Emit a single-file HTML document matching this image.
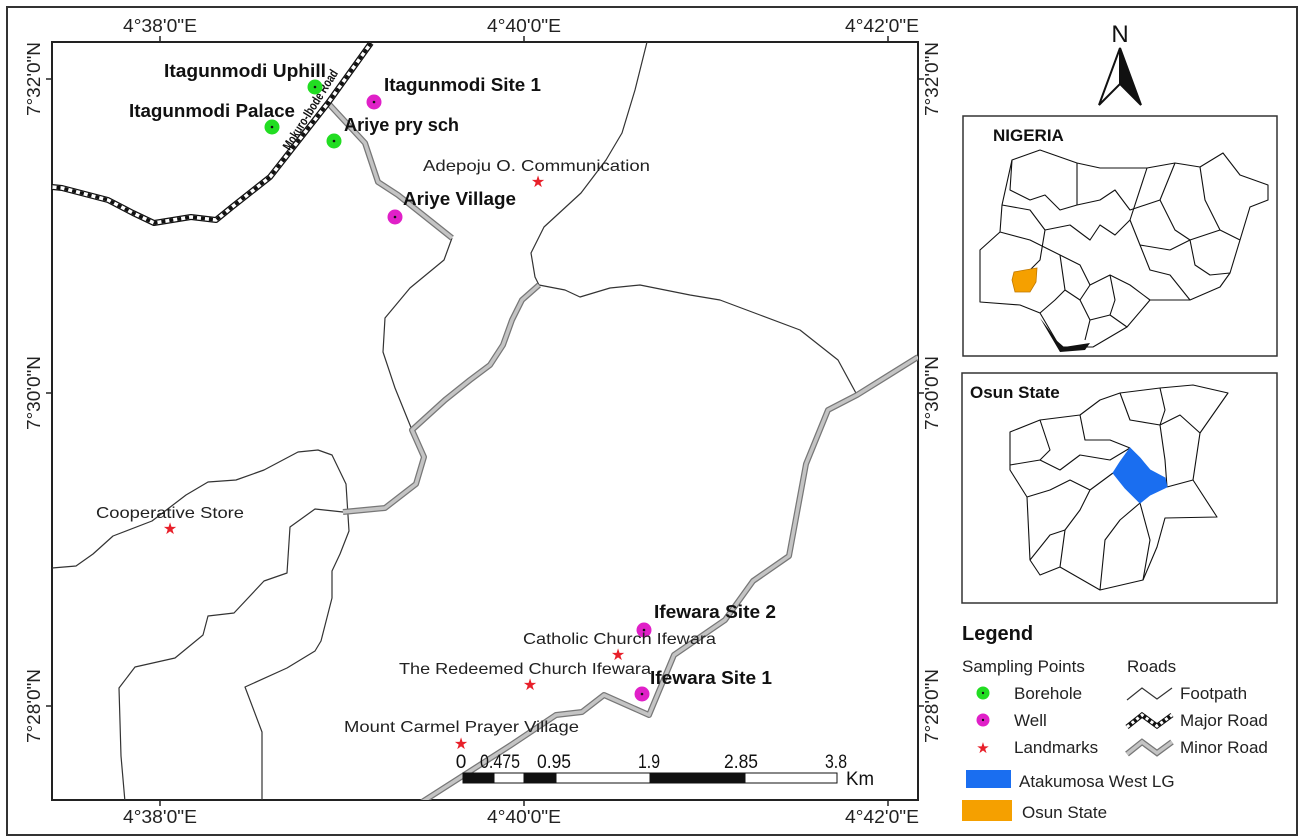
<!DOCTYPE html>
<html><head><meta charset="utf-8"><style>
html,body{margin:0;padding:0;background:#fff;}
svg{display:block;font-family:"Liberation Sans",sans-serif;}
</style></head><body>
<svg width="1304" height="840" viewBox="0 0 1304 840" xmlns="http://www.w3.org/2000/svg">
<rect x="7" y="7" width="1290" height="828" fill="#fff" stroke="#333" stroke-width="2"/>
<rect x="52" y="42" width="866" height="758" fill="#fff" stroke="#222" stroke-width="2"/>
<g stroke="#222" stroke-width="1.5">
<line x1="160" y1="36" x2="160" y2="42"/><line x1="524" y1="36" x2="524" y2="42"/><line x1="888" y1="36" x2="888" y2="42"/>
<line x1="160" y1="800" x2="160" y2="806"/><line x1="524" y1="800" x2="524" y2="806"/><line x1="888" y1="800" x2="888" y2="806"/>
<line x1="46" y1="79" x2="52" y2="79"/><line x1="46" y1="393" x2="52" y2="393"/><line x1="46" y1="706" x2="52" y2="706"/>
<line x1="918" y1="79" x2="924" y2="79"/><line x1="918" y1="393" x2="924" y2="393"/><line x1="918" y1="706" x2="924" y2="706"/>
</g>
<g font-size="18" fill="#222" text-anchor="middle" lengthAdjust="spacingAndGlyphs">
<text x="160" y="32" textLength="74" lengthAdjust="spacingAndGlyphs">4°38'0"E</text>
<text x="524" y="32" textLength="74" lengthAdjust="spacingAndGlyphs">4°40'0"E</text>
<text x="882" y="32" textLength="74" lengthAdjust="spacingAndGlyphs">4°42'0"E</text>
<text x="160" y="823" textLength="74" lengthAdjust="spacingAndGlyphs">4°38'0"E</text>
<text x="524" y="823" textLength="74" lengthAdjust="spacingAndGlyphs">4°40'0"E</text>
<text x="882" y="823" textLength="74" lengthAdjust="spacingAndGlyphs">4°42'0"E</text>
<text transform="translate(40,79) rotate(-90)" textLength="74" lengthAdjust="spacingAndGlyphs">7°32'0"N</text>
<text transform="translate(40,393) rotate(-90)" textLength="74" lengthAdjust="spacingAndGlyphs">7°30'0"N</text>
<text transform="translate(40,706) rotate(-90)" textLength="74" lengthAdjust="spacingAndGlyphs">7°28'0"N</text>
<text transform="translate(938,79) rotate(-90)" textLength="74" lengthAdjust="spacingAndGlyphs">7°32'0"N</text>
<text transform="translate(938,393) rotate(-90)" textLength="74" lengthAdjust="spacingAndGlyphs">7°30'0"N</text>
<text transform="translate(938,706) rotate(-90)" textLength="74" lengthAdjust="spacingAndGlyphs">7°28'0"N</text>
</g>
<svg x="52" y="42" width="866" height="758" viewBox="52 42 866 758" overflow="hidden">
<g fill="none" stroke="#333" stroke-width="1.2" stroke-linejoin="round">
<polyline points="52,568 76,566 93,554 113,536 152,521 186,495 208,482 236,480 264,470 298,452 318,450 332,455 346,484 349,531 340,554 332,571 332,598 321,641 315,651 287,668 245,687 262,732 262,802"/>
<polyline points="125,802 121,756 119,688 135,667 175,658 203,635 208,616 234,613 264,581 287,573 290,527 315,509 343,512"/>
<polyline points="452,238 444,260 410,288 385,318 383,352 395,388 412,430"/>
<polyline points="647,42 635,90 622,133 606,160 581,193 544,227 531,253 535,277 539,285"/>
<polyline points="539,285 565,290 580,297 610,288 640,285 690,295 720,300 760,315 800,330 838,360 857,395"/>
</g>
<g fill="none" stroke-linejoin="round">
<g stroke="#777" stroke-width="6">
<polyline points="328,103 365,143 378,182 398,195 452,238"/>
<polyline points="539,285 522,300 512,320 503,345 490,365 470,380 445,400 412,430 424,457 416,484 385,508 343,512"/>
<polyline points="422,802 511,745 556,715 582,712 604,695 649,715 674,655 725,620 753,581 789,556 806,464 828,410 857,395 918,357"/>
</g>
<g stroke="#c4c4c4" stroke-width="3.5">
<polyline points="328,103 365,143 378,182 398,195 452,238"/>
<polyline points="539,285 522,300 512,320 503,345 490,365 470,380 445,400 412,430 424,457 416,484 385,508 343,512"/>
<polyline points="422,802 511,745 556,715 582,712 604,695 649,715 674,655 725,620 753,581 789,556 806,464 828,410 857,395 918,357"/>
</g>
</g>
<g fill="none" stroke-linejoin="round">
<polyline points="371,43 328,103 270,177 232,207 216,220 191,217 154,223 133,213 108,200 62,188 52,187" stroke="#111" stroke-width="6"/>
<polyline points="371,43 328,103 270,177 232,207 216,220 191,217 154,223 133,213 108,200 62,188 52,187" stroke="#fff" stroke-width="3.5"/>
<polyline points="371,43 328,103 270,177 232,207 216,220 191,217 154,223 133,213 108,200 62,188 52,187" stroke="#111" stroke-width="3.5" stroke-dasharray="4,4"/>
</g>
</svg>
<text transform="translate(314,112) rotate(-58)" font-size="13" font-weight="bold" fill="#111" text-anchor="middle" textLength="92" lengthAdjust="spacingAndGlyphs">Mokuro-Ibode Road</text>
<g stroke="none">
<circle cx="315" cy="87" r="7.5" fill="#22dd22"/><circle cx="272" cy="127" r="7.5" fill="#22dd22"/><circle cx="334" cy="141" r="7.5" fill="#22dd22"/>
<circle cx="374" cy="102" r="7.5" fill="#e020c8"/><circle cx="395" cy="217" r="7.5" fill="#e020c8"/>
<circle cx="644" cy="630" r="7.5" fill="#e020c8"/><circle cx="642" cy="694" r="7.5" fill="#e020c8"/>
</g>
<g fill="#111"><circle cx="315" cy="87" r="1.3"/><circle cx="272" cy="127" r="1.3"/><circle cx="334" cy="141" r="1.3"/><circle cx="374" cy="102" r="1.3"/><circle cx="395" cy="217" r="1.3"/><circle cx="644" cy="630" r="1.3"/><circle cx="642" cy="694" r="1.3"/></g>
<g fill="#e8202a" font-size="16" text-anchor="middle">
<text x="538" y="187">★</text><text x="170" y="534">★</text><text x="530" y="690">★</text><text x="618" y="660">★</text><text x="461" y="749">★</text>
</g>
<g font-size="18" font-weight="bold" fill="#111">
<text x="164" y="77" textLength="162" lengthAdjust="spacingAndGlyphs">Itagunmodi Uphill</text>
<text x="129" y="117" textLength="166" lengthAdjust="spacingAndGlyphs">Itagunmodi Palace</text>
<text x="384" y="91" textLength="157" lengthAdjust="spacingAndGlyphs">Itagunmodi Site 1</text>
<text x="344" y="131" textLength="115" lengthAdjust="spacingAndGlyphs">Ariye pry sch</text>
<text x="403" y="205" textLength="113" lengthAdjust="spacingAndGlyphs">Ariye Village</text>
<text x="654" y="618" textLength="122" lengthAdjust="spacingAndGlyphs">Ifewara Site 2</text>
<text x="650" y="684" textLength="122" lengthAdjust="spacingAndGlyphs">Ifewara Site 1</text>
</g>
<g font-size="16" fill="#222">
<text x="423" y="171" textLength="227" lengthAdjust="spacingAndGlyphs">Adepoju O. Communication</text>
<text x="96" y="518" textLength="148" lengthAdjust="spacingAndGlyphs">Cooperative Store</text>
<text x="523" y="644" textLength="193" lengthAdjust="spacingAndGlyphs">Catholic Church Ifewara</text>
<text x="399" y="674" textLength="252" lengthAdjust="spacingAndGlyphs">The Redeemed Church Ifewara</text>
<text x="344" y="732" textLength="235" lengthAdjust="spacingAndGlyphs">Mount Carmel Prayer Village</text>
</g>
<g stroke="#111" stroke-width="1">
<rect x="463" y="773" width="374" height="10" fill="#fff"/>
<rect x="463" y="773" width="31" height="10" fill="#111"/>
<rect x="524" y="773" width="32" height="10" fill="#111"/>
<rect x="650" y="773" width="95" height="10" fill="#111"/>
</g>
<g font-size="19" fill="#111" text-anchor="middle">
<text x="461" y="768">0</text><text x="500" y="768" textLength="40" lengthAdjust="spacingAndGlyphs">0.475</text><text x="554" y="768" textLength="34" lengthAdjust="spacingAndGlyphs">0.95</text>
<text x="649" y="768" textLength="22" lengthAdjust="spacingAndGlyphs">1.9</text><text x="741" y="768" textLength="34" lengthAdjust="spacingAndGlyphs">2.85</text><text x="836" y="768" textLength="22" lengthAdjust="spacingAndGlyphs">3.8</text>
<text x="860" y="785" textLength="28" lengthAdjust="spacingAndGlyphs">Km</text>
</g>
<text x="1120" y="42" font-size="24" text-anchor="middle" fill="#111">N</text>
<polygon points="1120,48 1099,105 1120,84" fill="#fff" stroke="#111" stroke-width="2"/>
<polygon points="1120,48 1141,105 1120,84" fill="#111" stroke="#111" stroke-width="2"/>
<rect x="963" y="116" width="314" height="240" fill="#fff" stroke="#333" stroke-width="1.5"/>
<text x="993" y="141" font-size="17" font-weight="bold" fill="#111">NIGERIA</text>
<g fill="none" stroke="#111" stroke-width="1.1" stroke-linejoin="round">
<polygon points="980,302 980,250 1000,232 1002,205 1012,160 1040,150 1077,163 1100,168 1125,168 1147,168 1175,163 1200,167 1223,153 1240,175 1268,185 1268,200 1250,207 1240,240 1230,273 1220,287 1190,300 1150,300 1127,327 1093,347 1060,347 1040,313 1020,305"/>
<polyline points="1012,160 1010,190 1030,200 1045,195 1060,210 1077,205 1077,163"/>
<polyline points="1002,205 1030,210 1045,230 1070,225 1090,240 1100,225 1115,235 1130,220 1147,168"/>
<polyline points="1000,232 1030,240 1060,255 1080,265 1090,285 1110,275 1130,285 1150,300"/>
<polyline points="1077,205 1100,200 1115,190 1130,210 1160,200 1175,163"/>
<polyline points="1160,200 1175,230 1190,240 1220,230 1240,240"/>
<polyline points="1190,240 1195,265 1210,275 1230,273"/>
<polyline points="1130,220 1140,245 1170,250 1190,240"/>
<polyline points="1140,245 1150,270 1170,275 1190,300"/>
<polyline points="1060,255 1065,290 1080,300 1090,285"/>
<polyline points="1040,313 1055,300 1065,290"/>
<polyline points="1080,300 1090,320 1110,315 1127,327"/>
<polyline points="1090,320 1085,340"/>
<polyline points="1110,275 1115,300 1110,315"/>
<polyline points="1200,167 1205,200 1220,230"/>
<polyline points="1045,230 1040,260 1030,270"/>
</g>
<polygon points="1012,280 1014,272 1025,270 1037,268 1036,282 1030,292 1015,292" fill="#f5a000" stroke="#c07800" stroke-width="0.8"/>
<path d="M1040,318 Q1048,328 1056,340 L1064,347 L1090,343 L1085,350 L1060,352 Z" fill="#111"/>
<rect x="962" y="373" width="315" height="230" fill="#fff" stroke="#333" stroke-width="1.5"/>
<text x="970" y="398" font-size="17" font-weight="bold" fill="#111">Osun State</text>
<g fill="none" stroke="#111" stroke-width="1.1" stroke-linejoin="round">
<polygon points="1010,432 1040,420 1080,415 1100,400 1120,393 1160,388 1193,385 1228,393 1200,433 1193,480 1217,517 1165,518 1157,547 1143,580 1100,590 1060,567 1040,575 1030,560 1027,497 1010,470"/>
<polyline points="1010,465 1040,460 1060,470 1080,455 1110,460 1130,448"/>
<polyline points="1027,497 1050,490 1070,480 1090,490 1113,473"/>
<polyline points="1080,415 1085,440 1110,440 1130,448"/>
<polyline points="1120,393 1130,420 1160,425 1180,415 1200,433"/>
<polyline points="1160,425 1165,460 1167,487 1193,480"/>
<polyline points="1060,567 1065,530 1080,510 1090,490"/>
<polyline points="1100,590 1105,540 1120,520 1140,503"/>
<polyline points="1040,420 1050,450 1040,460"/>
<polyline points="1143,580 1150,540 1140,503"/>
<polyline points="1030,560 1050,535 1065,530"/>
<polyline points="1160,388 1165,410 1160,425"/>
</g>
<polygon points="1130,448 1120,462 1113,473 1125,488 1140,503 1150,495 1167,487 1165,478 1150,470 1140,458" fill="#1a6ef0" stroke="#1a6ef0"/>
<text x="962" y="640" font-size="20" font-weight="bold" fill="#111">Legend</text>
<g font-size="17" fill="#222">
<text x="962" y="672">Sampling Points</text><text x="1127" y="672">Roads</text>
<text x="1014" y="699">Borehole</text><text x="1014" y="726">Well</text><text x="1014" y="753">Landmarks</text>
<text x="1180" y="699">Footpath</text><text x="1180" y="726">Major Road</text><text x="1180" y="753">Minor Road</text>
<text x="1019" y="787">Atakumosa West LG</text><text x="1022" y="818">Osun State</text>
</g>
<circle cx="983" cy="693" r="6.5" fill="#22dd22"/><circle cx="983" cy="693" r="1.2" fill="#111"/>
<circle cx="983" cy="720" r="6.5" fill="#e020c8"/><circle cx="983" cy="720" r="1.2" fill="#111"/>
<text x="983" y="753" font-size="15" fill="#e8202a" text-anchor="middle">★</text>
<polyline points="1127,700 1142,688 1157,699 1172,688" fill="none" stroke="#333" stroke-width="1.2"/>
<polyline points="1127,727 1142,715 1157,726 1172,715" fill="none" stroke="#111" stroke-width="5"/>
<polyline points="1127,727 1142,715 1157,726 1172,715" fill="none" stroke="#fff" stroke-width="3" stroke-dasharray="3,3"/>
<polyline points="1127,754 1142,742 1157,753 1172,742" fill="none" stroke="#777" stroke-width="6"/>
<polyline points="1127,754 1142,742 1157,753 1172,742" fill="none" stroke="#c4c4c4" stroke-width="3.5"/>
<rect x="966" y="770" width="45" height="18" fill="#1a6ef0"/>
<rect x="962" y="800" width="50" height="21" fill="#f5a000"/>
</svg>
</body></html>
